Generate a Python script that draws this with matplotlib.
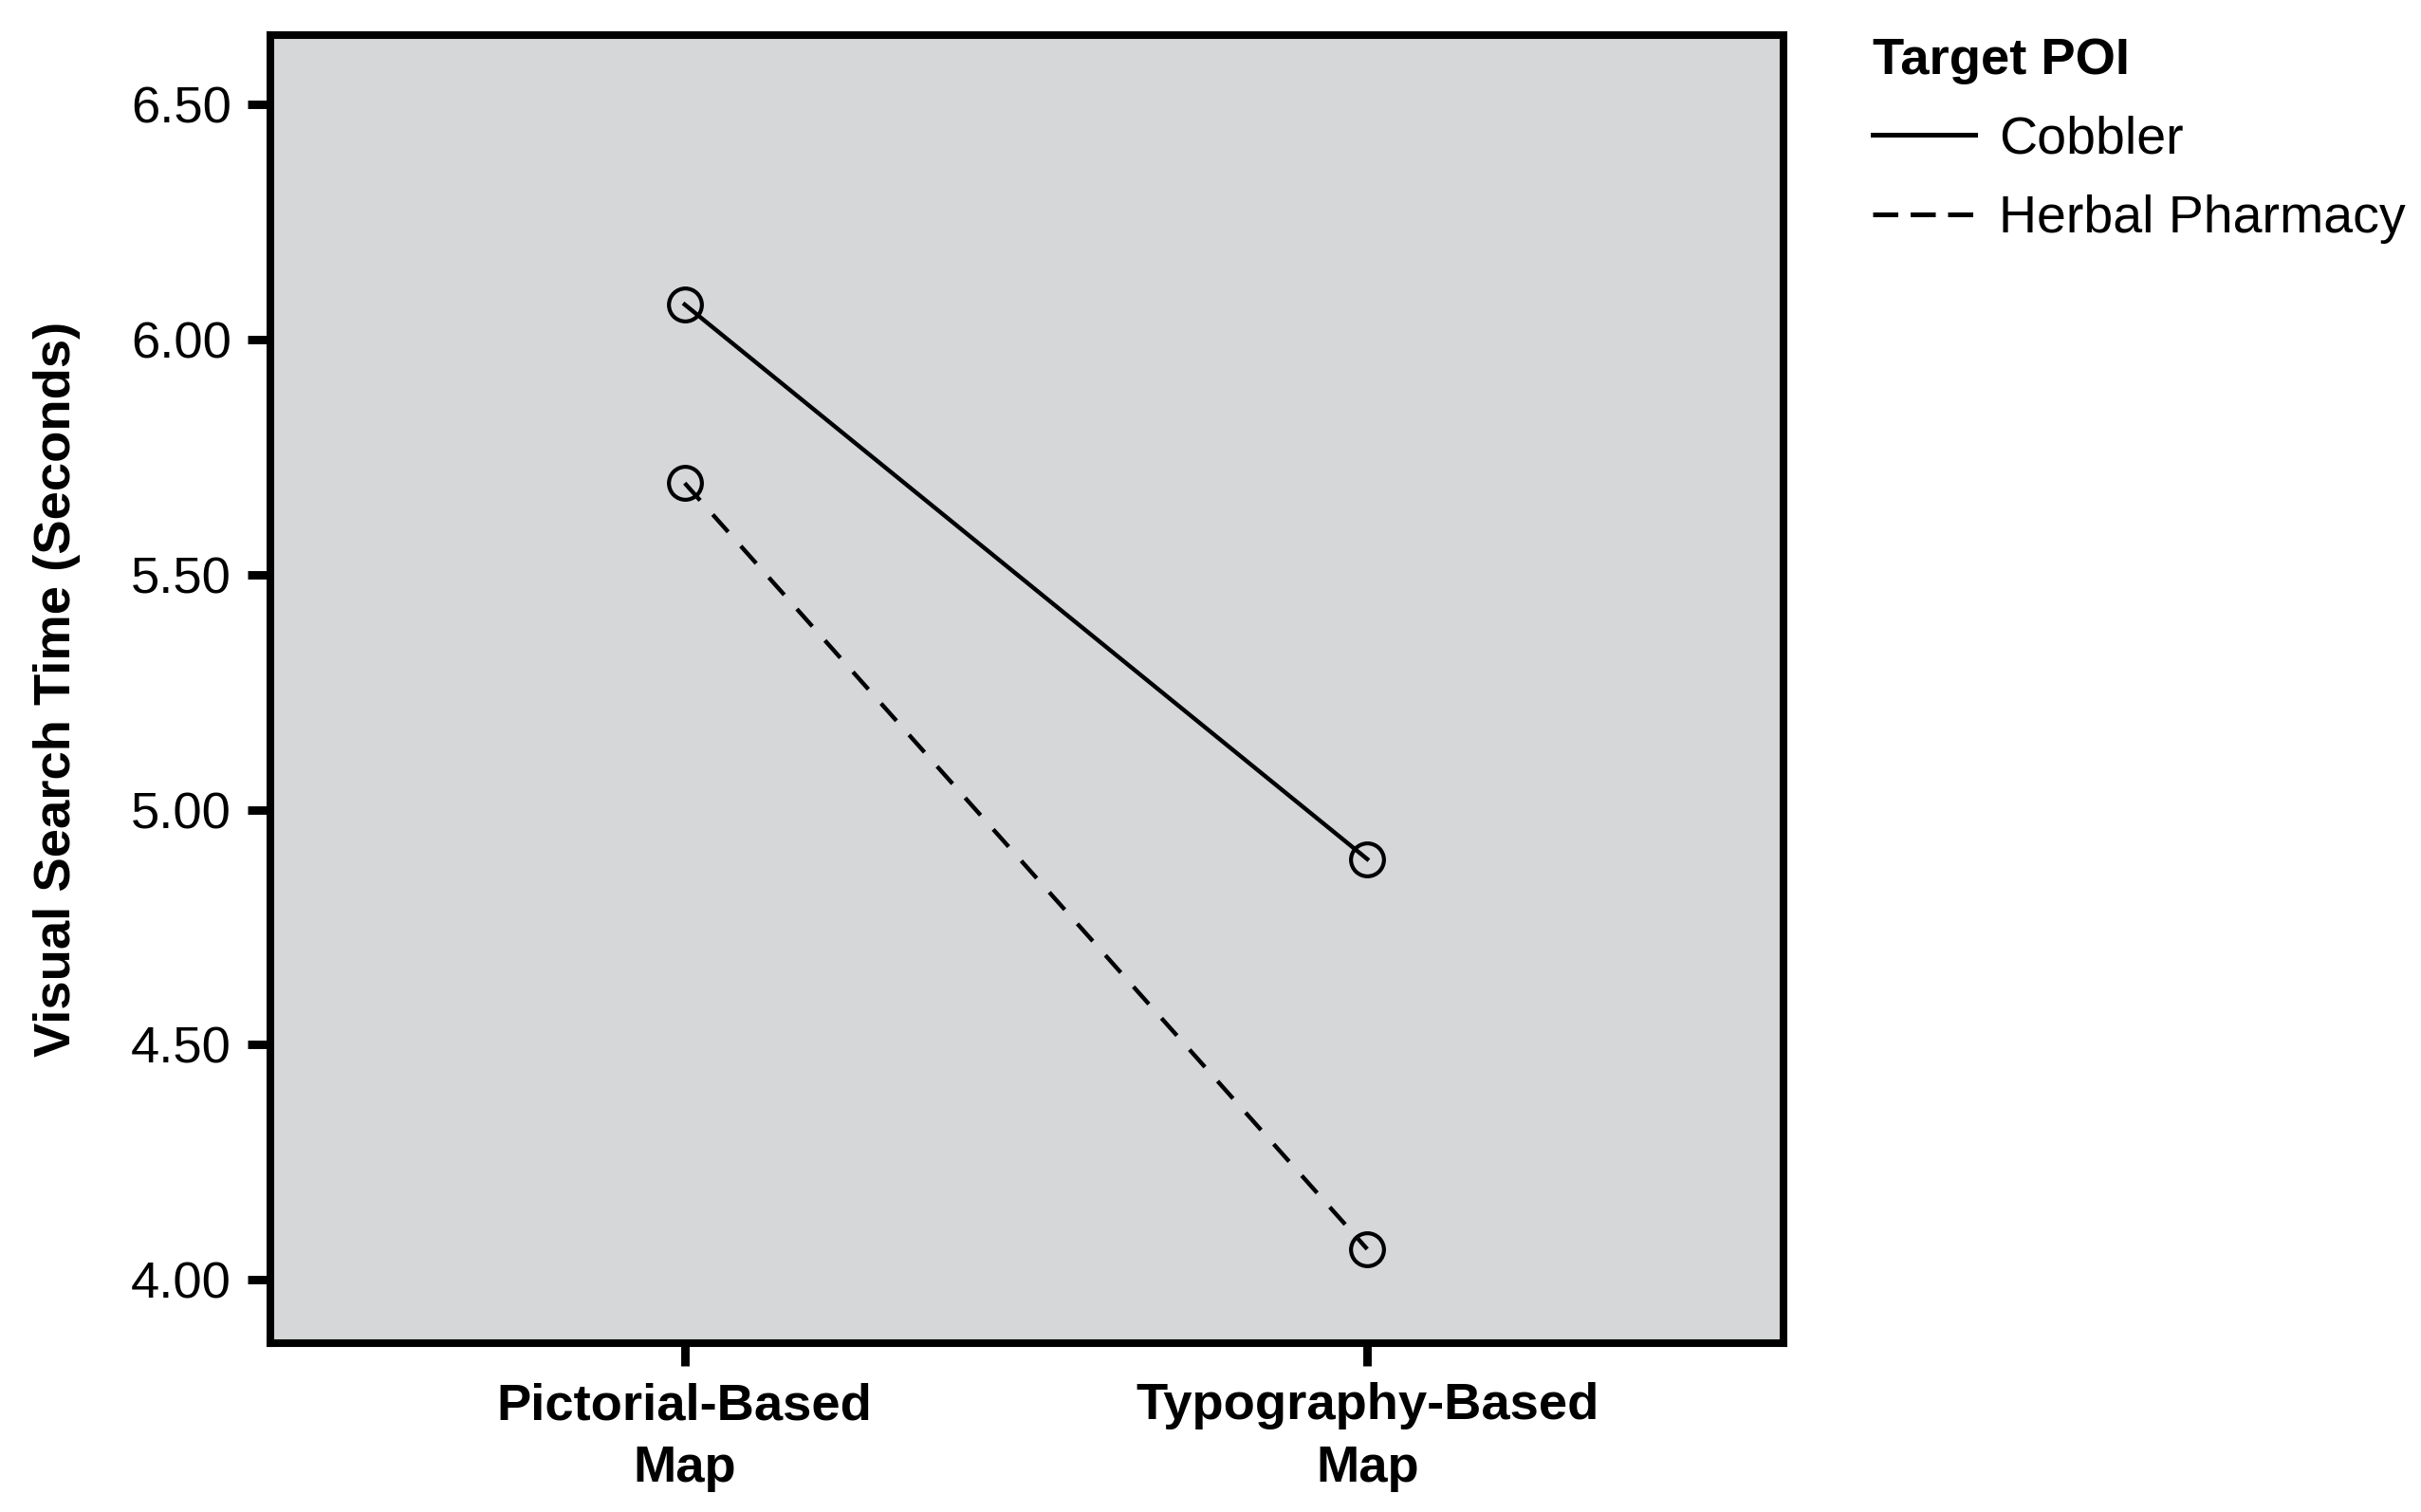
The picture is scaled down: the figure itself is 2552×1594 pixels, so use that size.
import matplotlib
matplotlib.use("Agg")
import matplotlib.pyplot as plt
from matplotlib.lines import Line2D

plt.rcParams['font.family'] = ['Liberation Sans', 'DejaVu Sans']

categories = ["Pictorial-Based\nMap", "Typography-Based\nMap"]
series_names = ["Cobbler", "Herbal Pharmacy"]
cobbler = [6.075, 4.895]
herbal = [5.695, 4.065]
yticks = [4.00, 4.50, 5.00, 5.50, 6.00, 6.50]

fig = plt.figure(figsize=(12.76, 7.97), dpi=200)
ax = fig.add_axes([0.1117, 0.1117, 0.625, 0.865])
ax.set_facecolor('#d6d7d9')

x = list(range(len(categories)))
fs = 19.6
lw = 1.6
ax.plot(x, cobbler, color='black', lw=lw, linestyle='-', marker='o', ms=12.5,
        mfc='none', mec='black', mew=1.5)
ax.plot(x, herbal, color='black', lw=lw, linestyle=(0, (5.5, 4.5)), marker='o', ms=12.5,
        mfc='none', mec='black', mew=1.5)

ax.set_xlim(-0.607, 1.61)
ax.set_ylim(3.865, 6.648)
ax.set_yticks(yticks)
ax.set_yticklabels([f"{v:.2f}" for v in yticks], fontsize=fs)
ax.set_xticks(x)
ax.set_xticklabels(categories, fontsize=fs, fontweight='bold', linespacing=1.4)
ax.tick_params(axis='both', direction='out', length=8.8, width=3.2, color='black', pad=6)
for s in ax.spines.values():
    s.set_linewidth(2.9)
    s.set_color('black')
ax.set_ylabel("Visual Search Time (Seconds)", fontsize=fs, fontweight='bold', labelpad=19)

handles = [Line2D([], [], color='black', lw=1.8, linestyle='-'),
           Line2D([], [], color='black', lw=1.8, linestyle=(0, (5.3, 2.6)))]
leg = fig.legend(handles, series_names, loc='upper left', bbox_to_anchor=(0.7735, 0.9755),
                 frameon=False, fontsize=20, title="Target POI",
                 title_fontproperties={'weight': 'bold', 'size': 19.6},
                 handlelength=1.95, handletextpad=0.45, labelspacing=0.58, alignment='left',
                 borderaxespad=0, borderpad=0)

fig.savefig("out.png", dpi=200)
